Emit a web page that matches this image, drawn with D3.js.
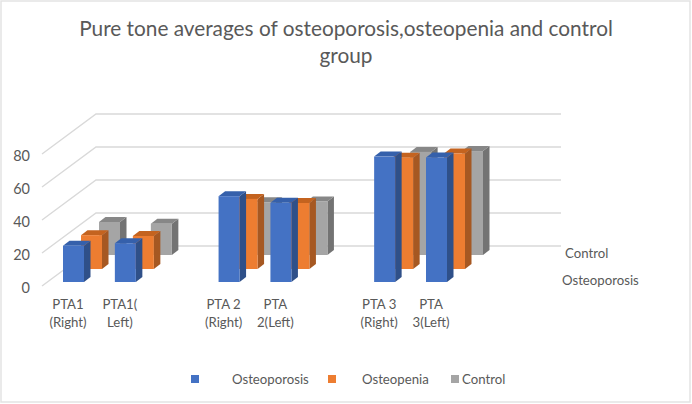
<!DOCTYPE html>
<html><head><meta charset="utf-8">
<script src="https://cdn.jsdelivr.net/npm/d3@7"></script>
<style>html,body{margin:0;padding:0;background:#fff}svg{display:block}text{font-family:Lato,"Open Sans",sans-serif;fill:#595959}</style>
</head><body><svg id="c" width="692" height="404"></svg>
<script>
const categories = [["PTA1","(Right)"],["PTA1(","Left)"],null,["PTA 2","(Right)"],["PTA","2(Left)"],null,["PTA 3","(Right)"],["PTA","3(Left)"]];
const seriesNames = ["Osteoporosis","Osteopenia","Control"];
const osteoporosis = [22,23.5,null,52,48,null,76,75.5];
const osteopenia = [20.5,20,null,42.5,40,null,67.5,70];
const control = [20,19,null,32,32.5,null,62.5,63];
const yTicks = [0,20,40,60,80];
const titleLines = ["Pure tone averages of osteoporosis,osteopenia and control","group"];
const depthLabels = ["Control","Osteoporosis"];

const palette = [
 {face:"#4472C4",side:"#2F5089",top:"#3560AB"},
 {face:"#ED7D31",side:"#A65822",top:"#C4631F"},
 {face:"#A5A5A5",side:"#737373",top:"#878787"}];
const svg = d3.select("#c");

svg.append("rect").attr("x",1).attr("y",1).attr("width",689).attr("height",401)
  .attr("fill","#fff").attr("stroke","#e3e3e3").attr("stroke-width",1.5);

const x = d3.scalePoint().domain(d3.range(categories.length)).range([63,426]);
const y = d3.scaleLinear().domain([0,100]).range([0,-165]);
const barW = 21, dx = 6.5, dy = -5;
const layerDX = 18, layerBase = [282,269,255];
const wall = {x0:96,x1:561,y0:246}, corner = {x:42,y:286};

// gridlines
const grid = svg.append("g").attr("fill","none").attr("stroke","#d9d9d9").attr("stroke-width",1.4);
grid.selectAll("path").data(yTicks).join("path")
  .attr("d",t=>`M${corner.x},${corner.y+y(t)}L${wall.x0},${wall.y0+y(t)}L${wall.x1},${wall.y0+y(t)}`);

// bars, back series first
const seriesValues=[osteoporosis,osteopenia,control];
[2,1,0].forEach(s=>{
  const data = seriesValues[s].map((v,i)=>({v,i})).filter(d=>d.v!=null);
  const g = svg.append("g").attr("class","series-"+s);
  const left = d=>x(d.i)+s*layerDX, base=layerBase[s], top=d=>base+y(d.v);
  const bars = g.selectAll("g").data(data).join("g");
  bars.append("path").attr("fill",palette[s].side)
    .attr("d",d=>`M${left(d)+barW},${top(d)}l${dx},${dy}V${base+dy}l${-dx},${-dy}Z`);
  bars.append("path").attr("fill",palette[s].top)
    .attr("d",d=>`M${left(d)},${top(d)}l${dx},${dy}h${barW}l${-dx},${-dy}Z`);
  bars.append("rect").attr("fill",palette[s].face)
    .attr("x",left).attr("y",top).attr("width",barW).attr("height",d=>base-top(d));
});

// value axis
const yAxisScale = d3.scaleLinear().domain([0,100]).range([287.5,122.5]);
const axis = svg.append("g").attr("transform","translate(30,0)")
  .call(d3.axisLeft(yAxisScale).tickValues(yTicks).tickSize(0).tickPadding(0));
axis.select(".domain").remove();
axis.selectAll("text").style("font-size","14.5px").style("font-family","Lato,sans-serif").style("fill","#595959");

// category labels
const cat = svg.append("g").attr("text-anchor","middle").style("font-size","13.2px");
categories.forEach((c,i)=>{
  if(!c) return;
  c.forEach((line,j)=>cat.append("text").attr("x",x(i)+5).attr("y",309+j*17.5).text(line));
});

// title
svg.append("g").attr("text-anchor","middle").style("font-size","20.8px")
  .selectAll("text").data(titleLines).join("text")
  .attr("x",346).attr("y",(d,i)=>35.5+i*27).text(d=>d);

// depth axis labels
svg.append("text").attr("x",565).attr("y",258).style("font-size","13.2px").text(depthLabels[0]);
svg.append("text").attr("x",562).attr("y",285).style("font-size","13.2px").text(depthLabels[1]);

// legend
const legendSwatchX=[191,328,451], legendTextX=[232,362,462];
const lg = svg.append("g");
seriesNames.forEach((n,i)=>{
  lg.append("rect").attr("x",legendSwatchX[i]).attr("y",375).attr("width",8).attr("height",8).attr("fill",palette[i].face);
  lg.append("text").attr("x",legendTextX[i]).attr("y",384).style("font-size","13.2px").text(n);
});
</script></body></html>
